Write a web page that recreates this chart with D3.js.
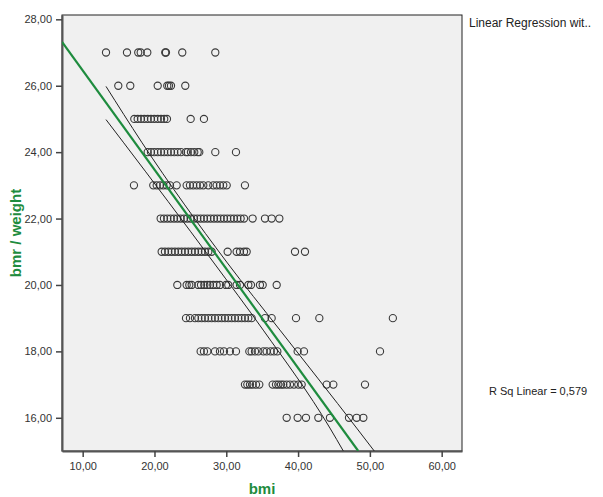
<!DOCTYPE html>
<html>
<head>
<meta charset="utf-8">
<script src="https://cdn.jsdelivr.net/npm/d3@7"></script>
<style>
  html, body { margin: 0; padding: 0; background: #fff; }
  svg { display: block; font-family: "Liberation Sans", Arial, sans-serif; }
</style>
</head>
<body>
<svg id="chart" width="603" height="497"></svg>
<script>
// ---- data ----
const rowValues = [27, 26, 25, 24, 23, 22, 21, 20, 19, 18, 17, 16];
const bmi27 = [13.25, 16.17, 17.74, 18.08, 19.0, 21.5, 21.6, 23.87, 28.47];
const bmi26 = [14.96, 16.63, 20.45, 21.78, 22.02, 22.3, 24.29];
const bmi25 = [17.19, 17.66, 18.12, 18.58, 19.05, 19.51, 19.97, 20.45, 20.91, 21.36, 21.74, 25.04, 26.89];
const bmi24 = [19.05, 19.51, 19.97, 20.45, 20.91, 21.36, 21.84, 22.3, 22.76, 23.23, 23.69, 24.38, 24.62, 25.08, 25.54, 26.02, 26.24, 28.47, 31.35];
const bmi23 = [17.14, 19.83, 20.31, 20.77, 21.23, 21.7, 22.16, 23.09, 24.48, 24.94, 25.4, 25.88, 26.34, 26.8, 27.49, 28.19, 28.66, 29.12, 29.58, 30.06, 32.6];
const bmi22 = [20.86, 21.32, 21.79, 22.25, 22.72, 23.18, 23.64, 24.11, 24.57, 25.04, 25.5, 25.97, 26.43, 26.89, 27.36, 27.82, 28.29, 28.75, 29.21, 29.68, 30.14, 30.61, 31.07, 31.54, 32.0, 32.47, 33.67, 35.39, 36.32, 37.39];
const bmi21 = [21.0, 21.46, 21.93, 22.39, 22.85, 23.32, 23.78, 24.25, 24.71, 25.18, 25.64, 26.11, 26.57, 27.03, 27.5, 27.96, 30.19, 31.44, 31.91, 32.47, 32.84, 39.57, 40.96];
const bmi20 = [23.18, 24.48, 24.85, 25.18, 26.11, 26.48, 26.94, 27.36, 27.73, 28.19, 28.66, 29.12, 29.96, 30.28, 31.44, 31.91, 33.07, 33.44, 34.69, 35.07, 37.02];
const bmi19 = [24.39, 24.94, 25.64, 26.11, 26.57, 27.03, 27.5, 27.96, 28.43, 28.89, 29.36, 29.82, 30.28, 30.75, 31.21, 31.68, 32.14, 32.6, 33.07, 33.53, 35.39, 36.32, 39.71, 42.96, 53.2];
const bmi18 = [26.43, 26.89, 27.36, 28.43, 29.12, 29.68, 30.51, 31.35, 33.21, 33.53, 34.0, 34.46, 35.16, 35.62, 36.18, 36.64, 37.11, 39.94, 40.82, 51.41];
const bmi17 = [32.6, 32.93, 33.3, 33.67, 34.14, 34.6, 36.46, 36.92, 37.25, 37.62, 37.94, 38.41, 38.87, 39.43, 40.03, 40.5, 43.98, 44.91, 49.32];
const bmi16 = [38.41, 39.94, 41.1, 42.82, 44.44, 47.09, 48.16, 49.09];
const bmiRows = [bmi27, bmi26, bmi25, bmi24, bmi23, bmi22, bmi21, bmi20, bmi19, bmi18, bmi17, bmi16];

// fit line and 95% band endpoints as [bmi, bmr/weight]
const fitLine = [[7.12, 27.32], [48.38, 15.0]];
const lowerBand = [[13.25, 24.98], [15.65, 24.30], [28.19, 20.69], [35.15, 18.64], [44.44, 15.69], [46.3, 15.0]];
const upperBand = [[13.25, 25.98], [18.22, 24.30], [30.06, 20.69], [37.48, 18.64], [48.16, 15.69], [50.61, 15.0]];

const xTicks = [10, 20, 30, 40, 50, 60];
const yTicks = [16, 18, 20, 22, 24, 26, 28];
const xDomain = [7.12, 62.83];
const yDomain = [15, 28.13];

const xTitle = "bmi";
const yTitle = "bmr / weight";
const legendTitle = "Linear Regression wit..";
const rsqLabel = "R Sq Linear = 0,579";

// ---- layout ----
const L = 62, R = 462, T = 15, B = 451;
const green = "#1e8c3e";
const svg = d3.select("#chart");

const x = d3.scaleLinear().domain(xDomain).range([L, R]);
const y = d3.scaleLinear().domain(yDomain).range([B, T]);
const fmt = v => d3.format(".2f")(v).replace(".", ",");

svg.append("rect").attr("x", L).attr("y", T).attr("width", R - L).attr("height", B - T)
  .attr("fill", "#f0f0f0").attr("stroke", "#222").attr("stroke-width", 1);

svg.append("clipPath").attr("id", "clip").append("rect")
  .attr("x", L).attr("y", T).attr("width", R - L).attr("height", B - T);

// axes
const xAxis = svg.append("g").attr("transform", `translate(0,${B})`)
  .call(d3.axisBottom(x).tickValues(xTicks).tickFormat(fmt).tickSize(6).tickSizeOuter(0));
const yAxis = svg.append("g").attr("transform", `translate(${L},0)`)
  .call(d3.axisLeft(y).tickValues(yTicks).tickFormat(fmt).tickSize(6).tickSizeOuter(0));
[xAxis, yAxis].forEach(g => {
  g.select(".domain").attr("stroke", "#555").attr("stroke-width", 2);
  g.selectAll(".tick line").attr("stroke", "#444").attr("stroke-width", 1.5);
  g.selectAll(".tick text").attr("fill", "#333").attr("font-size", 11)
    .attr("font-family", "'Liberation Sans', Arial, sans-serif");
});
xAxis.selectAll(".tick text").attr("dy", "0.95em");
yAxis.selectAll(".tick text").attr("dx", "-1");

// points
const pts = [];
rowValues.forEach((v, i) => bmiRows[i].forEach(b => pts.push([b, v])));
svg.append("g").selectAll("circle").data(pts).join("circle")
  .attr("cx", d => x(d[0])).attr("cy", d => y(d[1])).attr("r", 3.6)
  .attr("fill", "none").attr("stroke", "#3a3a3a").attr("stroke-width", 1.1);

// lines
const line = d3.line().x(d => x(d[0])).y(d => y(d[1])).curve(d3.curveMonotoneX);
const lg = svg.append("g").attr("clip-path", "url(#clip)");
lg.append("path").datum(lowerBand).attr("d", line).attr("fill", "none").attr("stroke", "#222").attr("stroke-width", 1);
lg.append("path").datum(upperBand).attr("d", line).attr("fill", "none").attr("stroke", "#222").attr("stroke-width", 1);
lg.append("path").datum(fitLine).attr("d", d3.line().x(d => x(d[0])).y(d => y(d[1])))
  .attr("fill", "none").attr("stroke", green).attr("stroke-width", 2.2);

// titles
svg.append("text").attr("x", (L + R) / 2).attr("y", 494).attr("text-anchor", "middle")
  .attr("font-size", 15).attr("font-weight", "bold").attr("fill", green).text(xTitle);
svg.append("text").attr("transform", `translate(21,${(T + B) / 2}) rotate(-90)`).attr("text-anchor", "middle")
  .attr("font-size", 15).attr("font-weight", "bold").attr("fill", green).text(yTitle);

svg.append("text").attr("x", 469).attr("y", 27).attr("font-size", 12).attr("fill", "#222").text(legendTitle);
svg.append("text").attr("x", 489).attr("y", 395).attr("font-size", 11).attr("fill", "#222").text(rsqLabel);
</script>
</body>
</html>
